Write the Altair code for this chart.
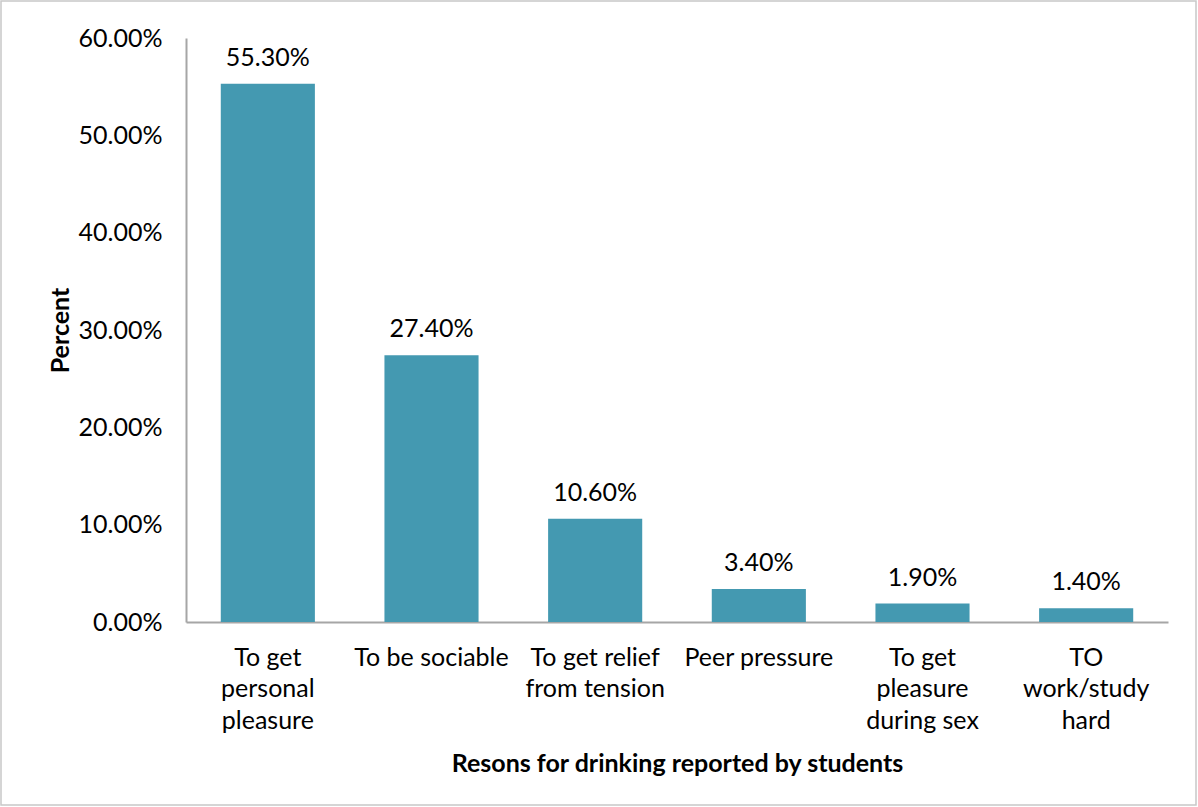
import altair as alt
import pandas as pd

# Reasons for drinking and their share of students
reasons = [
    "To get|personal|pleasure",
    "To be sociable",
    "To get relief|from tension",
    "Peer pressure",
    "To get|pleasure|during sex",
    "TO|work/study|hard",
]
shares = [0.553, 0.274, 0.106, 0.034, 0.019, 0.014]

df = pd.DataFrame({"reason": reasons, "share": shares})

FONT = "Lato"
FS = 25
BAR = "#4499B1"
AXIS = "#A6A6A6"

W, H = 982, 584
PAD = {"left": 186, "top": 38, "right": 30, "bottom": 185}

x_enc = alt.X(
    "reason:N",
    sort=reasons,
    scale=alt.Scale(paddingInner=0.425, paddingOuter=0.2125),
    axis=alt.Axis(
        title="Resons for drinking reported by students",
        labelExpr="split(datum.label, '|')",
        labelAngle=0,
        labelPadding=23,
        labelLineHeight=31.5,
        labelFontSize=FS,
        labelColor="#000000",
        labelFont=FONT,
        ticks=False,
        domainColor=AXIS,
        domainWidth=2,
        titleFont=FONT,
        titleFontSize=FS,
        titleFontWeight="bold",
        titleColor="#000000",
        titleY=141,
        titleBaseline="middle",
    ),
)

y_enc = alt.Y(
    "share:Q",
    scale=alt.Scale(domain=[0, 0.6]),
    axis=alt.Axis(
        title="Percent",
        values=[0, 0.1, 0.2, 0.3, 0.4, 0.5, 0.6],
        format=".2%",
        grid=False,
        ticks=False,
        labelPadding=24,
        labelFontSize=FS,
        labelColor="#000000",
        labelFont=FONT,
        domainColor=AXIS,
        domainWidth=2,
        titleFont=FONT,
        titleFontSize=FS,
        titleFontWeight="bold",
        titleColor="#000000",
        titleX=-126,
        titleY=H / 2,
        titleBaseline="middle",
    ),
)

bars = alt.Chart(df).mark_bar(color=BAR).encode(x=x_enc, y=y_enc)

labels = alt.Chart(df).mark_text(
    baseline="middle", dy=-26, fontSize=FS, font=FONT, color="#000000"
).encode(
    x=alt.X("reason:N", sort=reasons),
    y="share:Q",
    text=alt.Text("share:Q", format=".2%"),
)

# Thin frame around the whole figure
frame = alt.Chart(pd.DataFrame({"k": [0]})).mark_rect(
    fill=None, stroke="#C8C8C8", strokeWidth=1.5, clip=False
).encode(
    x=alt.value(-PAD["left"] + 1),
    x2=alt.value(W + PAD["right"] - 2),
    y=alt.value(-PAD["top"] + 1),
    y2=alt.value(H + PAD["bottom"] - 2),
)

chart = (
    alt.layer(frame, bars, labels)
    .properties(
        width=W,
        height=H,
        padding=PAD,
        autosize=alt.AutoSizeParams(type="none"),
        background="#FFFFFF",
    )
    .configure_view(stroke=None)
)

chart.save("out.html", embed_options={"renderer": "svg", "actions": False})
